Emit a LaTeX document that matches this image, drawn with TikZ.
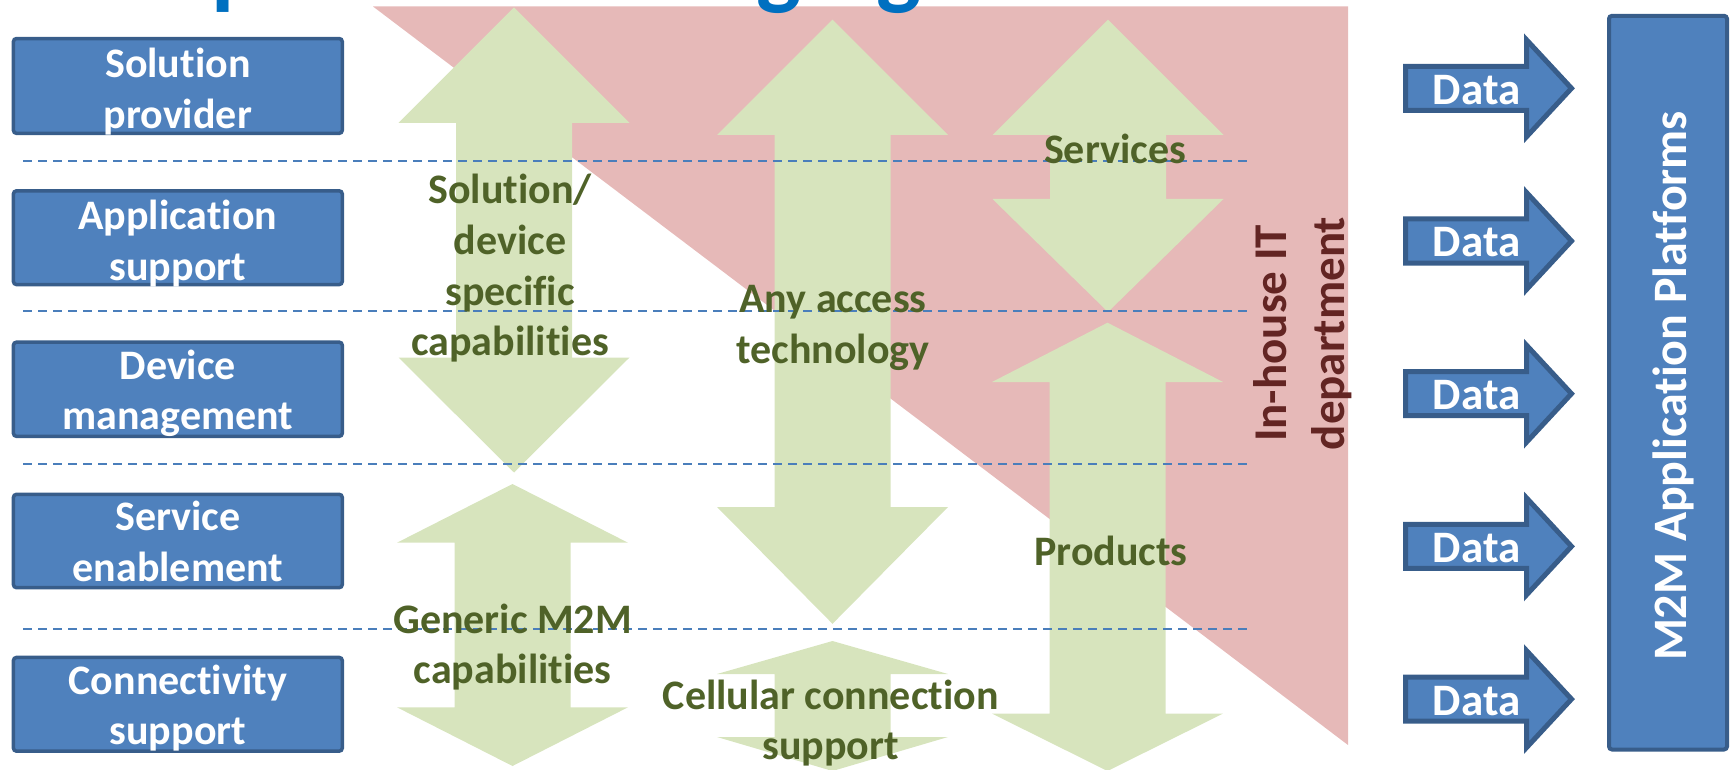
\documentclass[tikz,border=0pt]{standalone}
\usepackage{fontspec}
\setmainfont{Carlito}[Ligatures=NoCommon]
\definecolor{boxblue}{HTML}{4F81BD}
\definecolor{boxedge}{HTML}{385D8A}
\definecolor{pinkfill}{HTML}{E6B9B8}
\definecolor{greenfill}{HTML}{D7E4BD}
\definecolor{textgreen}{HTML}{4F6228}
\definecolor{darkred}{HTML}{632523}
\definecolor{titleblue}{HTML}{0070C0}
\definecolor{dashblue}{HTML}{4A7EBB}
\newcommand\greenarrow[5]{%
  \fill[greenfill] (#1,#2) -- ({#1+115.5},{#2+#4}) -- ({#1+58},{#2+#4}) -- ({#1+58},{#3-#5}) -- ({#1+115.5},{#3-#5}) -- (#1,#3) -- ({#1-115.5},{#3-#5}) -- ({#1-58},{#3-#5}) -- ({#1-58},{#2+#4}) -- ({#1-115.5},{#2+#4}) -- cycle;}
\newcommand\dataarrow[2]{%
  \draw[dataarrowstyle] (1405.5,{#2-22}) -- (1526.5,{#2-22}) -- (1526.5,{#2-48.5}) -- (1571.5,#2) -- (1526.5,{#2+48.5}) -- (1526.5,{#2+22}) -- (1405.5,{#2+22}) -- cycle;
  \node[datatext] (#1) at (1476.7,{#2+1.5}) {Data};}
\tikzset{
  layerbox/.style={draw=boxedge, fill=boxblue, line width=3.5pt, rounded corners=3pt},
  boxtext/.style={text=white, font=\bfseries\fontsize{42}{50.6}\selectfont, align=center, inner sep=0pt},
  greentext/.style={text=textgreen, font=\bfseries\fontsize{42}{50.6}\selectfont, align=center, inner sep=0pt},
  datatext/.style={text=white, font=\bfseries\fontsize{45}{54}\selectfont, inner sep=0pt},
  dataarrowstyle/.style={draw=boxedge, fill=boxblue, line width=5pt, line join=miter},
  layerline/.style={draw=dashblue, line width=2pt, dash pattern=on 9pt off 6pt},
}
\begin{document}
\begin{tikzpicture}[x=1pt,y=-1pt]
\useasboundingbox (0,0) rectangle (1732,770);
\begin{scope}
\clip (0,0) rectangle (1732,770);
% in-house IT area
\fill[pinkfill] (373,6.5) -- (1348,6.5) -- (1348,745) -- cycle;
% green double arrows
\greenarrow{514}{7.4}{472.5}{115.4}{115}
\greenarrow{512.5}{484}{766}{58.7}{58.7}
\greenarrow{832.5}{19.6}{623.8}{115.4}{116.8}
\greenarrow{832.5}{641}{771}{33}{34}
\greenarrow{1108}{19.6}{312}{115.4}{113}
\greenarrow{1107.5}{322.7}{771}{59.3}{57.4}
% layer separators
\coordinate (l1a) at (23,160.6); \coordinate (l1b) at (1248,160.6);
\coordinate (l2a) at (23,310.9); \coordinate (l2b) at (1248,310.9);
\coordinate (l3a) at (23,464.1); \coordinate (l3b) at (1248,464.1);
\coordinate (l4a) at (23,628.7); \coordinate (l4b) at (1248,628.7);
\draw[layerline] (l1a) -- (l1b);
\draw[layerline] (l2a) -- (l2b);
\draw[layerline] (l3a) -- (l3b);
\draw[layerline] (l4a) -- (l4b);
% left layer boxes
\draw[layerbox] (13.45,38.55) rectangle (342.25,133.35);
\draw[layerbox] (13.45,190.85) rectangle (342.25,284.55);
\draw[layerbox] (13.45,342.15) rectangle (342.25,436.35);
\draw[layerbox] (13.45,494.35) rectangle (342.25,587.65);
\draw[layerbox] (13.45,657.45) rectangle (342.25,751.15);
\node[boxtext] (sp) at (177.8,91.4) {Solution\\provider};
\node[boxtext] (as) at (177.8,243.7) {Application\\support};
\node[boxtext] (dm) at (177.8,393.5) {Device\\management};
\node[boxtext] (se) at (177.8,541.3) {Service\\enablement};
\node[boxtext] (cs) at (177.8,708) {Connectivity\\support};
% arrow labels
\node[greentext] (sdc) at (510,268.4) {Solution/\\device\\specific\\capabilities};
\node[greentext] (gen) at (512.6,647) {Generic M2M\\capabilities};
\node[greentext] (acc) at (833,327.8) {Any access\\technology};
\node[greentext] (cell) at (830.7,723) {Cellular connection\\support};
\node[greentext] (serv) at (1115,148.5) {Services};
\node[greentext] (prod) at (1111,551.3) {Products};
\node[text=darkred, font=\bfseries\fontsize{47}{58}\selectfont, align=center, inner sep=0pt, rotate=90] (inhouse) at (1303,333.5) {In-house IT\\department};
% data arrows
\dataarrow{d1}{88.3}
\dataarrow{d2}{241}
\dataarrow{d3}{393.7}
\dataarrow{d4}{546.4}
\dataarrow{d5}{699.1}
% platform box
\draw[layerbox, line width=4pt] (1609,15.8) rectangle (1727,749.5);
\node[text=white, font=\bfseries\fontsize{48}{57}\selectfont, inner sep=0pt, rotate=90] (m2m) at (1673,386) {M2M Application Platforms};
% clipped title
\node[anchor=base west, inner sep=0pt, text=titleblue, font=\bfseries\fontsize{95}{114}\selectfont] (title) at (44,-2) {complex and changing use};
\end{scope}
\end{tikzpicture}
\end{document}
